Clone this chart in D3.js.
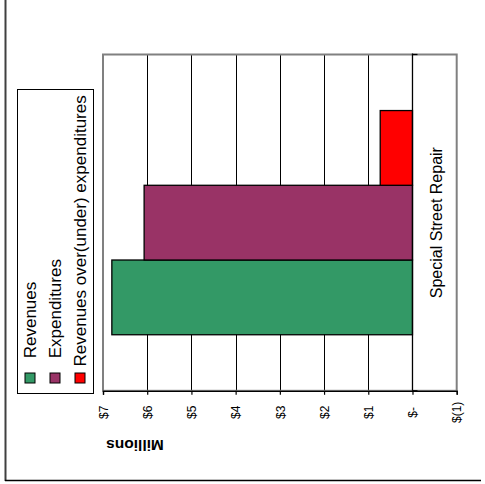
<!DOCTYPE html>
<html><head><meta charset="utf-8">
<script src="https://cdn.jsdelivr.net/npm/d3@7"></script>
<style>body{margin:0;background:#fff}svg{display:block}text{font-family:"Liberation Sans",Arial,sans-serif;fill:#000}</style>
</head><body>
<script>
const categories = ["Special Street Repair"];
const seriesNames = ["Revenues", "Expenditures", "Revenues over(under) expenditures"];
const seriesColors = ["#339966", "#993366", "#FF0000"];
const seriesValues = [6.80, 6.07, 0.73];
const tickValues = [7, 6, 5, 4, 3, 2, 1, 0, -1];
const tickLabels = ["$7", "$6", "$5", "$4", "$3", "$2", "$1", "$-", "$(1)"];
const axisTitle = "Millions";

const W = 485, H = 484;
const svg = d3.select("body").append("svg").attr("width", W).attr("height", H);
svg.append("rect").attr("width", W).attr("height", H).attr("fill", "#fff");

// outer chart border (left and bottom visible)
svg.append("line").attr("x1", 5.5).attr("x2", 5.5).attr("y1", 0).attr("y2", 481).attr("stroke", "#404040").attr("stroke-width", 2);
svg.append("line").attr("x1", 5).attr("x2", 481).attr("y1", 480.5).attr("y2", 480.5).attr("stroke", "#000").attr("stroke-width", 1.5);

const plot = {left: 103, right: 456.7, top: 54.5, bottom: 390.8};
const x = d3.scaleLinear().domain([7, -1]).range([plot.left, plot.right]);
const yCat = d3.scaleBand().domain(categories).range([plot.bottom, plot.top]);
const ySer = d3.scaleBand().domain(seriesNames).range([yCat.bandwidth(), 0]).paddingInner(0).paddingOuter(0.75);

// gridlines
svg.append("g").selectAll("line").data(tickValues.filter(v => v !== 7 && v !== -1 && v !== 0)).join("line")
  .attr("x1", d => Math.round(x(d)) + 0.5).attr("x2", d => Math.round(x(d)) + 0.5)
  .attr("y1", plot.top).attr("y2", plot.bottom).attr("stroke", "#000").attr("stroke-width", 1);

// plot border
svg.append("rect").attr("x", plot.left).attr("y", plot.top).attr("width", plot.right - plot.left).attr("height", plot.bottom - plot.top)
  .attr("fill", "none").attr("stroke", "#808080").attr("stroke-width", 2);

// bars
const g = svg.append("g");
categories.forEach(cat => {
  g.selectAll("rect.bar").data(seriesNames.map((s, i) => ({s, i, v: seriesValues[i]}))).join("rect")
    .attr("class", "bar")
    .attr("x", d => x(Math.max(d.v, 0)))
    .attr("width", d => Math.abs(x(d.v) - x(0)))
    .attr("y", d => yCat(cat) + ySer(d.s))
    .attr("height", ySer.bandwidth())
    .attr("fill", d => seriesColors[d.i])
    .attr("stroke", "#000").attr("stroke-width", 1.3);
});

// category axis at zero
svg.append("line").attr("x1", x(0)).attr("x2", x(0)).attr("y1", plot.top - 1).attr("y2", plot.bottom).attr("stroke", "#000").attr("stroke-width", 1.3);
[plot.top, plot.bottom].forEach(yy => {
  svg.append("line").attr("x1", x(0)).attr("x2", x(0) + 5).attr("y1", yy).attr("y2", yy).attr("stroke", "#000").attr("stroke-width", 1.3);
});

// value axis
const axisG = svg.append("g").attr("transform", `translate(0,${plot.bottom})`)
  .call(d3.axisBottom(x).tickValues(tickValues).tickSize(4).tickFormat((d, i) => tickLabels[i]));
axisG.select(".domain").attr("stroke", "#000").attr("stroke-width", 1.3);
axisG.selectAll(".tick line").attr("stroke", "#000").attr("stroke-width", 1.2);
axisG.selectAll(".tick text")
  .attr("font-family", "Liberation Sans, Arial, sans-serif").attr("font-size", 12).attr("fill", "#000")
  .attr("text-anchor", "middle").attr("y", 0).attr("dy", "0.35em")
  .attr("transform", "translate(0,21.5) rotate(-90)");

// axis title (upside down)
svg.append("text").attr("transform", "translate(135,440) rotate(180)")
  .attr("text-anchor", "middle").attr("font-size", 15.5).attr("font-weight", "bold").text(axisTitle);

// category label
svg.append("text").attr("transform", `translate(436.7,${yCat(categories[0]) + yCat.bandwidth() / 2}) rotate(-90)`)
  .attr("text-anchor", "middle").attr("dy", "0.35em").attr("font-size", 16).text(categories[0]);

// legend
const leg = svg.append("g");
leg.append("rect").attr("x", 17.5).attr("y", 89.5).attr("width", 76).attr("height", 304)
  .attr("fill", "#fff").attr("stroke", "#000").attr("stroke-width", 1);
const legX = [25, 50, 75];
const legTextStart = [358.3, 358.3, 366.5];
seriesNames.forEach((s, i) => {
  leg.append("rect").attr("x", legX[i]).attr("y", 373).attr("width", 10).attr("height", 10)
    .attr("fill", seriesColors[i]).attr("stroke", "#000").attr("stroke-width", 1);
  leg.append("text").attr("transform", `translate(${legX[i] + 10.5},${legTextStart[i]}) rotate(-90)`)
    .attr("font-size", 17).text(s);
});
</script>
</body></html>
